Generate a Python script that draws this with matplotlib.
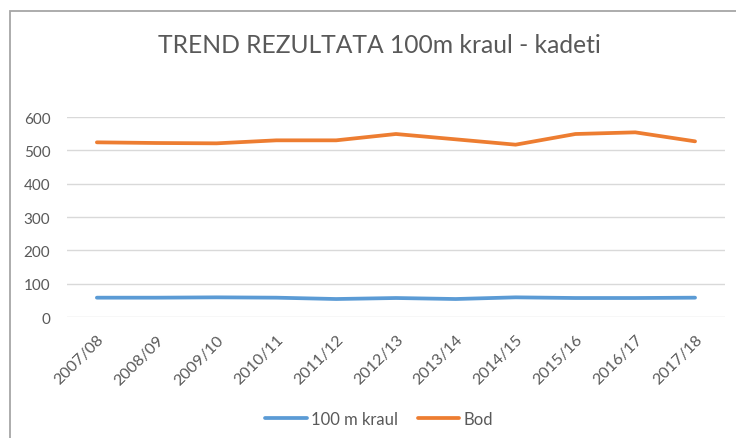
import matplotlib.pyplot as plt
from matplotlib.patches import Rectangle

plt.rcParams['font.family'] = ['Lato', 'DejaVu Sans']

seasons = ['2007/08', '2008/09', '2009/10', '2010/11', '2011/12', '2012/13',
           '2013/14', '2014/15', '2015/16', '2016/17', '2017/18']
kraul = [58, 58, 59, 58, 54, 57, 54, 59, 57, 57, 58]
bodovi = [524, 522, 521, 530, 530, 549, 533, 517, 549, 554, 527]

fig = plt.figure(figsize=(7.36, 4.39), dpi=100)
ax = fig.add_axes([0.091, 0.2756, 0.894, 0.4556])

x = range(len(seasons))
ax.plot(x, kraul, color='#5B9BD5', lw=2.7, solid_capstyle='round', label='100 m kraul')
ax.plot(x, bodovi, color='#ED7D31', lw=2.7, solid_capstyle='round', label='Bod')

ax.set_xlim(-0.5, len(seasons) - 0.5)
ax.set_ylim(0, 600)
ax.set_yticks(range(0, 601, 100))
ax.set_xticks(list(x))
ax.set_xticklabels(seasons, rotation=45, ha='right', rotation_mode='anchor')
ax.grid(axis='y', color='#D9D9D9', lw=1)
ax.set_axisbelow(True)
for s in ax.spines.values():
    s.set_visible(False)
ax.tick_params(length=0, colors='#595959', labelsize=11)
ax.tick_params(axis='x', pad=11, labelsize=11.5)
ax.tick_params(axis='y', pad=12)

fig.text(0.515, 0.897, 'TREND REZULTATA 100m kraul - kadeti', ha='center', va='center',
         fontsize=17.7, color='#595959')

leg = fig.legend(loc='center', bbox_to_anchor=(0.515, 0.043), ncol=2, frameon=False,
                 fontsize=12, handlelength=2.5, handletextpad=0.25, columnspacing=1.2)
for t in leg.get_texts():
    t.set_color('#595959')
for h in leg.legend_handles:
    h.set_solid_capstyle('round')

# chart frame
fig.patches.append(Rectangle((9.5 / 736, -0.1), 1.2, 1.1 - 11.5 / 439,
                             transform=fig.transFigure, fill=False,
                             edgecolor='#A6A6A6', lw=1.3))

fig.savefig('out.png', dpi=100)
